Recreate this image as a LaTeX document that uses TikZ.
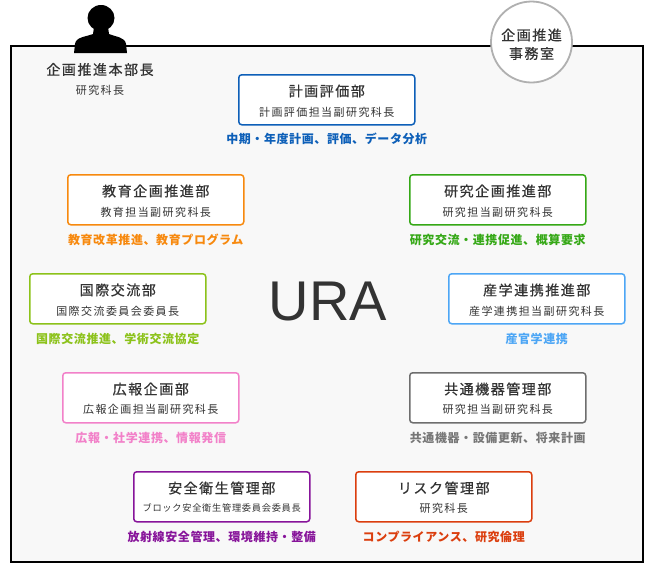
\documentclass[tikz,border=0pt]{standalone}
\usepackage{fontspec}
\setmainfont{Noto Sans CJK JP}
\newfontfamily\jpT[LetterSpace=11,FakeBold=0.6]{Noto Sans CJK JP}
\newfontfamily\jpS[LetterSpace=13]{Noto Sans CJK JP}
\newfontfamily\jpL[LetterSpace=5]{Noto Sans CJK JP}
\newfontfamily\jpXS[LetterSpace=8]{Noto Sans CJK JP}
\newfontfamily\urafont{Liberation Sans}
\usetikzlibrary{calc}
\definecolor{cblue}{HTML}{0D5FB8}
\definecolor{corange}{HTML}{F7890E}
\definecolor{cgreen}{HTML}{35A816}
\definecolor{cygreen}{HTML}{8CC21A}
\definecolor{clblue}{HTML}{4DA6F5}
\definecolor{cpink}{HTML}{F281C9}
\definecolor{cgray}{HTML}{6E6E6E}
\definecolor{cgraylbl}{HTML}{777777}
\definecolor{cpurple}{HTML}{87149A}
\definecolor{cred}{HTML}{DB3E0E}
\definecolor{ctext}{HTML}{333333}
\definecolor{cbg}{HTML}{F8F8F8}
\definecolor{ccircle}{HTML}{B0B0B0}
\tikzset{
  dept/.style={draw=#1, line width=1.5pt, fill=white, rounded corners=3pt,
    minimum width=176pt, minimum height=50pt, anchor=north west, inner sep=0pt},
  ttl/.style={font=\jpT\fontsize{14}{14}\selectfont, text=ctext, inner sep=0pt},
  subt/.style={font=\jpS\fontsize{11}{11}\selectfont, text=ctext, inner sep=0pt},
  subxs/.style={font=\jpXS\fontsize{9.2}{9.2}\selectfont, text=ctext, inner sep=0pt},
  lbl/.style={font=\jpL\bfseries\fontsize{12}{12}\selectfont, text=#1, inner sep=0pt},
}
\begin{document}
\begin{tikzpicture}[x=1pt,y=-1pt]
\useasboundingbox (0,0) rectangle (653,563);
% frame
\draw[line width=2pt, fill=cbg] (11,46) rectangle (643,562);
% person icon
\fill[black] (101,18) ellipse [x radius=13.5, y radius=13];
\fill[black] (94,27) -- (93,34) .. controls (85,37) and (76,37) .. (75,44) -- (74,53)
  -- (127,53) -- (126,44) .. controls (125,37) and (116,37) .. (109,34) -- (108,27) -- cycle;
\node[ttl] (head) at (100,69.5) {企画推進本部長};
\node[subt] (headsub) at (100,90) {研究科長};
% office circle
\node[circle, draw=ccircle, line width=1.8pt, fill=white, minimum size=81pt, inner sep=0pt] (office) at (531.5,42) {};
\node[ttl] (office1) at (531.5,35) {企画推進};
\node[ttl] (office2) at (531.5,53.5) {事務室};
% URA
\node[font=\urafont\fontsize{56}{56}\selectfont, text=ctext, inner sep=0pt, anchor=base] (ura) at (328,320) {URA};
% departments
\node[dept=cblue] (b1) at (238,74) {};
\node[ttl] (b1t) at ([yshift=-17pt]b1.north) {計画評価部};
\node[subt] (b1s) at ([yshift=-38pt]b1.north) {計画評価担当副研究科長};
\node[lbl=cblue] (b1l) at ([yshift=-64.5pt]b1.north) {中期・年度計画、評価、データ分析};

\node[dept=corange] (b2) at (67,174) {};
\node[ttl] (b2t) at ([yshift=-17pt]b2.north) {教育企画推進部};
\node[subt] (b2s) at ([yshift=-38pt]b2.north) {教育担当副研究科長};
\node[lbl=corange] (b2l) at ([yshift=-66pt]b2.north) {教育改革推進、教育プログラム};

\node[dept=cgreen] (b3) at (409,174) {};
\node[ttl] (b3t) at ([yshift=-17pt]b3.north) {研究企画推進部};
\node[subt] (b3s) at ([yshift=-38pt]b3.north) {研究担当副研究科長};
\node[lbl=cgreen] (b3l) at ([yshift=-66pt]b3.north) {研究交流・連携促進、概算要求};

\node[dept=cygreen] (b4) at (29,273) {};
\node[ttl] (b4t) at ([yshift=-17pt]b4.north) {国際交流部};
\node[subt] (b4s) at ([yshift=-38pt]b4.north) {国際交流委員会委員長};
\node[lbl=cygreen] (b4l) at ([yshift=-66pt]b4.north) {国際交流推進、学術交流協定};

\node[dept=clblue] (b5) at (448,273) {};
\node[ttl] (b5t) at ([yshift=-17pt]b5.north) {産学連携推進部};
\node[subt] (b5s) at ([yshift=-38pt]b5.north) {産学連携担当副研究科長};
\node[lbl=clblue] (b5l) at ([yshift=-66pt]b5.north) {産官学連携};

\node[dept=cpink] (b6) at (62,372) {};
\node[ttl] (b6t) at ([yshift=-17pt]b6.north) {広報企画部};
\node[subt] (b6s) at ([yshift=-37pt]b6.north) {広報企画担当副研究科長};
\node[lbl=cpink] (b6l) at ([yshift=-66pt]b6.north) {広報・社学連携、情報発信};

\node[dept=cgray] (b7) at (409,372) {};
\node[ttl] (b7t) at ([yshift=-17pt]b7.north) {共通機器管理部};
\node[subt] (b7s) at ([yshift=-37pt]b7.north) {研究担当副研究科長};
\node[lbl=cgraylbl] (b7l) at ([yshift=-66pt]b7.north) {共通機器・設備更新、将来計画};

\node[dept=cpurple] (b8) at (133,471) {};
\node[ttl] (b8t) at ([yshift=-17pt]b8.north) {安全衛生管理部};
\node[subxs] (b8s) at ([yshift=-37pt]b8.north) {ブロック安全衛生管理委員会委員長};
\node[lbl=cpurple] (b8l) at ([yshift=-66pt]b8.north) {放射線安全管理、環境維持・整備};

\node[dept=cred] (b9) at (355,471) {};
\node[ttl] (b9t) at ([yshift=-17pt]b9.north) {リスク管理部};
\node[subt] (b9s) at ([yshift=-37pt]b9.north) {研究科長};
\node[lbl=cred] (b9l) at ([yshift=-66pt]b9.north) {コンプライアンス、研究倫理};
\end{tikzpicture}
\end{document}
